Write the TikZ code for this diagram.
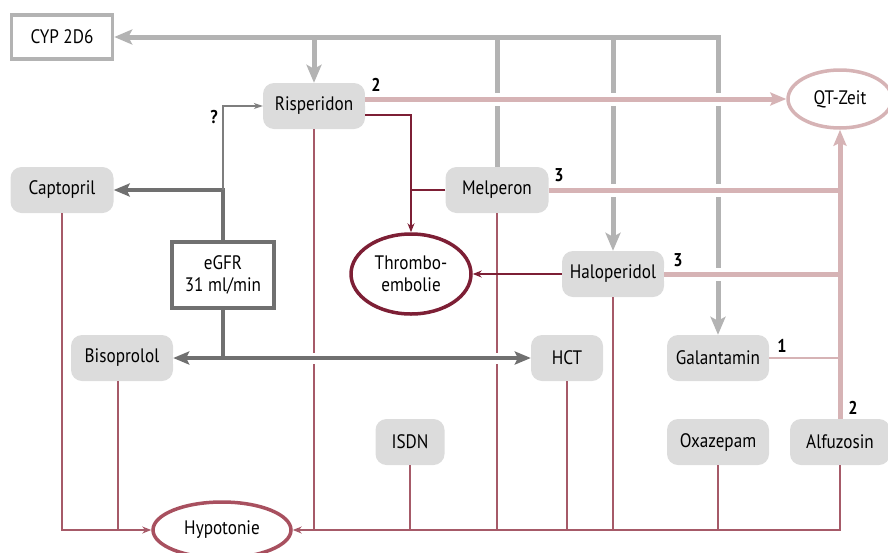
\documentclass[tikz,border=0pt]{standalone}
\usepackage{fontspec}
\setmainfont{PT Sans}[FakeStretch=0.88]
\usetikzlibrary{shapes.geometric,arrows.meta}
\definecolor{boxgray}{HTML}{DCDCDC}
\definecolor{cypgray}{HTML}{B3B3B3}
\definecolor{egfrgray}{HTML}{707070}
\definecolor{qtpink}{HTML}{D6B3B5}
\definecolor{thrombored}{HTML}{7D1F35}
\definecolor{hypored}{HTML}{A8505F}
\definecolor{hypoline}{HTML}{A65A68}
\begin{document}
\begin{tikzpicture}[x=1pt,y=-1pt,
  font=\fontsize{19.5}{22}\selectfont,
  drug/.style={rectangle,rounded corners=11pt,fill=boxgray,minimum height=46pt,inner sep=0pt,align=center},
  cypbox/.style={rectangle,draw=cypgray,line width=3.5pt,fill=white,minimum height=44pt,minimum width=101pt,inner sep=0pt},
  egfrbox/.style={rectangle,draw=egfrgray,line width=4pt,fill=white,minimum height=66pt,minimum width=102pt,inner sep=0pt,align=center},
  effect/.style={ellipse,line width=3.5pt,fill=white,inner sep=0pt,align=center},
  cypline/.style={draw=cypgray,line width=5pt},
  cyparrow/.style={cypline,-{Stealth[length=18pt,width=15pt,inset=4pt]}},
  qtline/.style={draw=qtpink,line width=5pt},
  qtarrow/.style={qtline,-{Stealth[length=16pt,width=13pt,inset=3pt]}},
  gapwhite/.style={draw=white,line width=13pt},
  egline/.style={draw=egfrgray,line width=4pt},
  egarrow/.style={egline,-{Stealth[length=16pt,width=13pt,inset=3pt]}},
  thline/.style={draw=thrombored,line width=1.4pt},
  tharrow/.style={thline,-{Stealth[length=9pt,width=7pt]}},
  hyline/.style={draw=hypoline,line width=1.6pt},
  hyarrow/.style={hyline,-{Stealth[length=9pt,width=7pt]}},
  num/.style={font=\fontsize{18.5}{20}\selectfont\bfseries,inner sep=0pt}
]
\useasboundingbox (0,0) rectangle (888,552);

% nodes
\node[cypbox] (cyp) at (62,37) {CYP 2D6};
\node[drug,minimum width=102pt] (ris) at (314,106) {Risperidon};
\node[effect,draw=qtpink,minimum width=104pt,minimum height=58pt] (qt) at (840,99) {QT-Zeit};
\node[drug,minimum width=103pt] (cap) at (62,190) {Captopril};
\node[drug,minimum width=103pt] (mel) at (497,190) {Melperon};
\node[egfrbox] (egfr) at (223,275) {eGFR\\31 ml/min};
\node[effect,draw=thrombored,minimum width=120pt,minimum height=80pt] (thr) at (411,274) {Thrombo-\\embolie};
\node[drug,minimum width=102pt] (hal) at (613,274) {Haloperidol};
\node[drug,minimum width=102pt] (bis) at (122,358) {Bisoprolol};
\node[drug,minimum width=72pt] (hct) at (567,358) {HCT};
\node[drug,minimum width=102pt] (gal) at (718,358) {Galantamin};
\node[drug,minimum width=69pt] (isdn) at (410,442) {ISDN};
\node[drug,minimum width=102pt] (oxa) at (718,442) {Oxazepam};
\node[drug,minimum width=100pt] (alf) at (840,442) {Alfuzosin};
\node[effect,draw=hypored,minimum width=138pt,minimum height=56pt] (hyp) at (222,530) {Hypotonie};

% CYP 2D6 lines
\coordinate (cR) at (314,37);
\coordinate (cM) at (497,37);
\coordinate (cH) at (613,37);
\coordinate (cG) at (718,37);
\draw[cypline,{Stealth[length=18pt,width=15pt,inset=4pt]}-{Stealth[length=18pt,width=15pt,inset=4pt]}] (cyp.east) -- (cG) -- (gal.north);
\draw[cyparrow] (cR) -- (ris.north);
\draw[cypline] (mel.north) -- (cM);
\draw[cyparrow] (cH) -- (hal.north);

% Hypotonie lines
\coordinate (hL) at (62,530);
\coordinate (hB) at (118,530);
\coordinate (hA) at (840,530);
\draw[hyarrow] (cap.south) -- (hL) -- (hyp.west);
\draw[hyline] (bis.south -| hB) -- (hB);
\draw[hyarrow] (alf.south) -- (hA) -- (hyp.east);
\draw[hyline] (ris.south) -- (ris.south |- hA);
\draw[hyline] (isdn.south) -- (isdn.south |- hA);
\draw[hyline] (mel.south) -- (mel.south |- hA);
\draw[hyline] (hct.south) -- (hct.south |- hA);
\draw[hyline] (hal.south) -- (hal.south |- hA);
\draw[hyline] (oxa.south) -- (oxa.south |- hA);

% Thromboembolie lines
\coordinate (tj) at (411,115);
\coordinate (tm) at (411,190);
\draw[tharrow] (ris.east |- tj) -- (tj) -- (thr.north);
\draw[thline] (mel.west) -- (tm);
\draw[tharrow] (hal.west) -- (thr.east);

% QT lines: white gaps first
\coordinate (qv) at (842.5,190);
\coordinate (qv2) at (842.5,274);
\coordinate (qv3) at (840,358);
\draw[gapwhite] (ris.east |- qt) -- (qt.west);
\draw[gapwhite] (mel.east) -- (qv);
\draw[gapwhite] (hal.east) -- (qv2);
\draw[qtarrow] (ris.east |- qt) -- (qt.west);
\draw[qtline] (mel.east) -- (qv);
\draw[qtline] (hal.east) -- (qv2);
\draw[draw=qtpink,line width=2pt] (gal.east) -- (qv3);
\draw[qtarrow] (alf.north) -- (qt.south);

% eGFR lines
\coordinate (eT) at (223,190);
\coordinate (eB) at (223,358);
\coordinate (eQ) at (223,106);
\draw[gapwhite,line width=11pt] (bis.east) -- (hct.west);
\draw[egarrow] (eB) -- (bis.east);
\draw[egarrow] (eB) -- (hct.west);
\draw[egline] (egfr.south) -- (eB);
\draw[egarrow] (egfr.north) -- (eT) -- (cap.east);
\draw[draw=egfrgray!90,line width=1.2pt,-{Stealth[length=9pt,width=6pt]}] (eT) -- (eQ) -- (ris.west);

% labels
\node[num] (n1) at (376,85) {2};
\node[num] (n2) at (559,175) {3};
\node[num] (n3) at (678,260) {3};
\node[num] (n4) at (782,346) {1};
\node[num] (n5) at (853,408) {2};
\node[num] (nq) at (214,117) {?};
\end{tikzpicture}
\end{document}
